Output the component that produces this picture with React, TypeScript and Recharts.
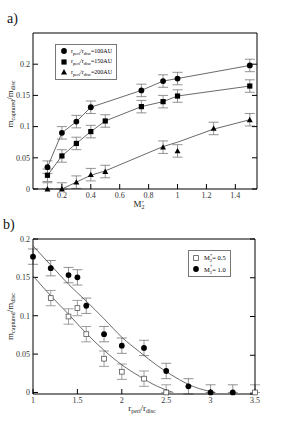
import React from "react";
import { ComposedChart, Scatter, XAxis, YAxis, ErrorBar, Legend } from "recharts";

const SERIF = '"Liberation Serif", "DejaVu Serif", serif';

// panel a) captured mass vs M2*
const aX100 = [0.1, 0.2, 0.3, 0.4, 0.75, 0.9, 1.0, 1.5];
const aY100 = [0.035, 0.09, 0.108, 0.131, 0.158, 0.173, 0.177, 0.198];
const aX150 = [0.1, 0.2, 0.3, 0.4, 0.5, 0.75, 0.9, 1.0, 1.5];
const aY150 = [0.022, 0.053, 0.073, 0.092, 0.109, 0.132, 0.14, 0.149, 0.165];
const aX200 = [0.1, 0.2, 0.3, 0.4, 0.5, 0.9, 1.0, 1.25, 1.5];
const aY200 = [0, 0, 0.011, 0.023, 0.028, 0.067, 0.061, 0.097, 0.111];
const aFitX200 = [0.1, 0.2, 0.3, 0.4, 0.5, 0.9, 1.0, 1.25, 1.5];
const aFitY200 = [0, 0, 0.011, 0.022, 0.029, 0.068, 0.075, 0.096, 0.111];
const aXTicks = [0.2, 0.4, 0.6, 0.8, 1, 1.2, 1.4];
const aYTicks = [0, 0.05, 0.1, 0.15, 0.2];

// panel b) captured mass vs r_peri/r_disc
const bX05 = [1.2, 1.4, 1.5, 1.6, 1.8, 2.0, 2.25, 2.5, 3.5];
const bY05 = [0.123, 0.099, 0.11, 0.076, 0.044, 0.027, 0.018, 0, 0];
const bX10 = [1.0, 1.2, 1.4, 1.5, 1.6, 1.8, 2.0, 2.25, 2.5, 2.75, 3.0, 3.25];
const bY10 = [0.177, 0.162, 0.153, 0.15, 0.113, 0.076, 0.061, 0.058, 0.028, 0.008, 0, 0];
const bFitX05 = [1.0, 1.2, 1.4, 1.6, 1.8, 2.0, 2.2, 2.4, 2.58];
const bFitY05 = [0.152, 0.126, 0.102, 0.077, 0.055, 0.036, 0.021, 0.008, 0];
const bFitX10 = [1.0, 1.2, 1.4, 1.6, 1.8, 2.0, 2.2, 2.4, 2.6, 2.8, 3.05];
const bFitY10 = [0.191, 0.166, 0.141, 0.119, 0.096, 0.072, 0.053, 0.035, 0.02, 0.008, 0];
const bXTicks = [1, 1.5, 2, 2.5, 3, 3.5];
const bYTicks = [0, 0.05, 0.1, 0.15, 0.2];

const ERR = 0.01;

function rows(xs: number[], ys: number[], err = true) {
  return xs.map((x, i) => ({
    x,
    y: ys[i],
    e: err ? (ys[i] === 0 ? [0, ERR] : [ERR, ERR]) : [0, 0],
  }));
}

const tick = { fontSize: 8, fill: "#333", fontFamily: SERIF };
const noLabel = () => "";

const Dot = (p: any) => <circle cx={p.cx} cy={p.cy} r={2.9} fill="#000" />;
const Box = (p: any) => <rect x={p.cx - 2.6} y={p.cy - 2.6} width={5.2} height={5.2} fill="#000" />;
const Tri = (p: any) => (
  <polygon points={`${p.cx},${p.cy - 3} ${p.cx - 3},${p.cy + 2.4} ${p.cx + 3},${p.cy + 2.4}`} fill="#000" />
);
const OpenBox = (p: any) => (
  <rect x={p.cx - 2.4} y={p.cy - 2.4} width={4.8} height={4.8} fill="#fff" stroke="#555" strokeWidth={0.8} />
);
const Nothing = () => <g />;

const lineStyle = { stroke: "#444", strokeWidth: 0.8 };

const sub = { fontSize: 4.5, verticalAlign: "sub" as const, lineHeight: 0 };

const LegendA = () => (
  <div style={{ border: "1px solid #777", background: "#fff", padding: "1px 4px 2px 4px", fontFamily: SERIF, fontSize: 6, lineHeight: "10.4px" }}>
    {[Dot, Box, Tri].map((S, i) => (
      <div key={i} style={{ display: "flex", alignItems: "center", whiteSpace: "nowrap" }}>
        <svg width={10} height={8}><S cx={4} cy={4} /></svg>
        <span style={{ marginLeft: 1 }}>
          r<span style={sub}>peri</span>/r<span style={sub}>disc</span>={["100", "150", "200"][i]}AU
        </span>
      </div>
    ))}
  </div>
);

const LegendB = () => (
  <div style={{ border: "1px solid #777", background: "#fff", padding: "1px 4px 1px 3px", fontFamily: SERIF, fontSize: 6.5, lineHeight: "11.6px" }}>
    {[OpenBox, Dot].map((S, i) => (
      <div key={i} style={{ display: "flex", alignItems: "center", whiteSpace: "nowrap" }}>
        <svg width={11} height={8}><S cx={4} cy={4} /></svg>
        <span style={{ marginLeft: 1 }}>
          M<span style={sub}>2</span><span style={{ fontSize: 4.5, verticalAlign: "super", lineHeight: 0, marginLeft: -2 }}>*</span>{["= 0.5", "= 1.0"][i]}
        </span>
      </div>
    ))}
  </div>
);

const YTitle = (shift: number) => (props: any) => {
  const vb = props.viewBox;
  const cy = vb.y + vb.height / 2 + shift;
  return (
    <text transform={`translate(12.5,${cy}) rotate(-90)`} textAnchor="middle" fontFamily={SERIF} fontSize={9} fill="#222">
      m<tspan fontSize={6} dy={2}>captured</tspan>
      <tspan fontSize={9} dy={-2}>/m</tspan>
      <tspan fontSize={6} dy={2}>disc</tspan>
    </text>
  );
};

const XTitleA = (props: any) => {
  const vb = props.viewBox;
  return (
    <text x={vb.x + vb.width / 2 - 6} y={vb.y + 18} textAnchor="middle" fontFamily={SERIF} fontSize={9} fill="#222">
      M<tspan fontSize={6} dy={2}>2</tspan>
      <tspan fontSize={5} dx={-3} dy={-5}>*</tspan>
    </text>
  );
};

const XTitleB = (props: any) => {
  const vb = props.viewBox;
  return (
    <text x={vb.x + vb.width / 2 - 2} y={vb.y + 17} textAnchor="middle" fontFamily={SERIF} fontSize={9} fill="#222">
      r<tspan fontSize={6} dy={2}>peri</tspan>
      <tspan fontSize={9} dy={-2}>/r</tspan>
      <tspan fontSize={6} dy={2}>disc</tspan>
    </text>
  );
};

const axisCommon = { tickSize: -5, tickLine: { stroke: "#000" }, axisLine: { stroke: "#000" } };

export default function App() {
  return (
    <div style={{ position: "absolute", left: 0, top: 0, width: 288, height: 428, background: "#fff" }}>
      <div style={{ position: "absolute", left: 7, top: 11, fontFamily: SERIF, fontSize: 14, color: "#111" }}>a)</div>
      <div style={{ position: "absolute", left: 3, top: 217, fontFamily: SERIF, fontSize: 14, color: "#111" }}>b)</div>

      <div style={{ position: "absolute", left: 0, top: 0 }}>
        <ComposedChart width={288} height={214} margin={{ top: 32, right: 30, bottom: 0, left: 0 }}>
          <XAxis dataKey="x" type="number" domain={[0, 1.55]} ticks={aXTicks} height={25} tick={tick} tickMargin={8} {...axisCommon} label={{ content: XTitleA }} />
          <XAxis xAxisId="t" orientation="top" type="number" domain={[0, 1.55]} ticks={aXTicks} height={1} tickFormatter={noLabel} allowDataOverflow {...axisCommon} />
          <YAxis dataKey="y" type="number" domain={[0, 0.25]} ticks={aYTicks} width={33} tick={tick} tickMargin={8} {...axisCommon} label={{ content: YTitle(-7) }} />
          <YAxis yAxisId="r" orientation="right" type="number" domain={[0, 0.25]} ticks={aYTicks} width={1} tickFormatter={noLabel} allowDataOverflow {...axisCommon} />
          <Scatter data={rows(aFitX200, aFitY200, false)} shape={Nothing} line={lineStyle} isAnimationActive={false} />
          <Scatter data={rows(aX100, aY100)} shape={Dot} line={lineStyle} isAnimationActive={false}>
            <ErrorBar dataKey="e" direction="y" width={5} stroke="#777" strokeWidth={0.8} />
          </Scatter>
          <Scatter data={rows(aX150, aY150)} shape={Box} line={lineStyle} isAnimationActive={false}>
            <ErrorBar dataKey="e" direction="y" width={5} stroke="#777" strokeWidth={0.8} />
          </Scatter>
          <Scatter data={rows(aX200, aY200)} shape={Tri} isAnimationActive={false}>
            <ErrorBar dataKey="e" direction="y" width={5} stroke="#777" strokeWidth={0.8} />
          </Scatter>
          <Legend content={LegendA} verticalAlign="middle" wrapperStyle={{ left: 55, top: 44, width: "auto", height: "auto" }} />
        </ComposedChart>
      </div>

      <div style={{ position: "absolute", left: 0, top: 214 }}>
        <ComposedChart width={288} height={214} margin={{ top: 24, right: 32, bottom: 0, left: 0 }}>
          <XAxis dataKey="x" type="number" domain={[1, 3.5]} ticks={bXTicks} height={34} tick={tick} tickMargin={8} {...axisCommon} label={{ content: XTitleB }} />
          <XAxis xAxisId="t" orientation="top" type="number" domain={[1, 3.5]} ticks={bXTicks} height={1} tickFormatter={noLabel} allowDataOverflow {...axisCommon} />
          <YAxis dataKey="y" type="number" domain={[0, 0.2]} ticks={bYTicks} width={33} tick={tick} tickMargin={8} {...axisCommon} label={{ content: YTitle(0) }} />
          <YAxis yAxisId="r" orientation="right" type="number" domain={[0, 0.2]} ticks={bYTicks} width={1} tickFormatter={noLabel} allowDataOverflow {...axisCommon} />
          <Scatter data={rows(bFitX05, bFitY05, false)} shape={Nothing} line={lineStyle} lineJointType="monotoneX" isAnimationActive={false} />
          <Scatter data={rows(bFitX10, bFitY10, false)} shape={Nothing} line={lineStyle} lineJointType="monotoneX" isAnimationActive={false} />
          <Scatter data={rows(bX05, bY05)} shape={OpenBox} isAnimationActive={false}>
            <ErrorBar dataKey="e" direction="y" width={5} stroke="#888" strokeWidth={0.8} />
          </Scatter>
          <Scatter data={rows(bX10, bY10)} shape={Dot} isAnimationActive={false}>
            <ErrorBar dataKey="e" direction="y" width={5} stroke="#777" strokeWidth={0.8} />
          </Scatter>
          <Legend content={LegendB} verticalAlign="middle" wrapperStyle={{ left: 188, top: 36, width: "auto", height: "auto" }} />
        </ComposedChart>
      </div>
    </div>
  );
}
